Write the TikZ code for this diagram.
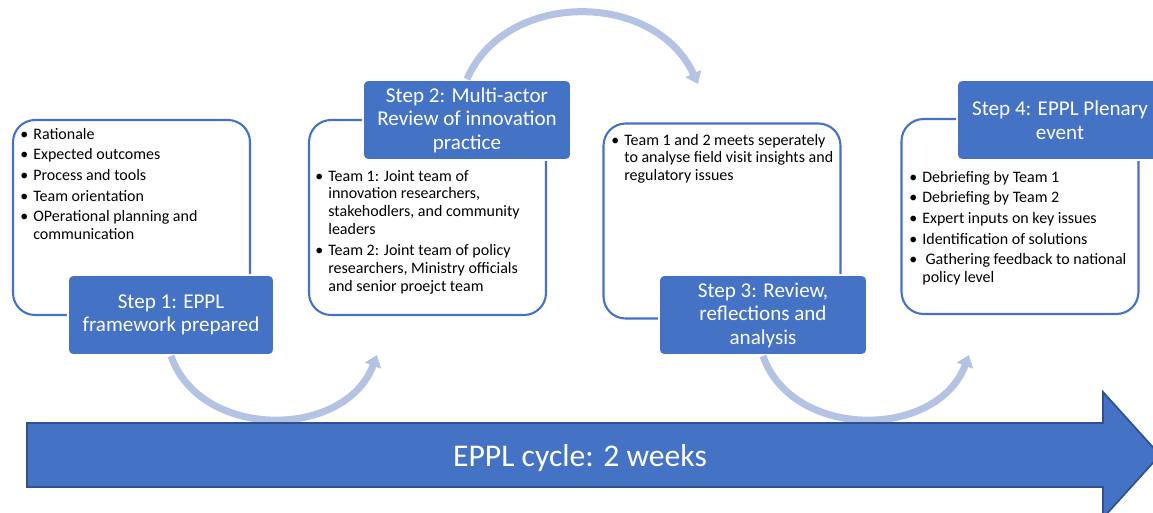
\documentclass[tikz,border=0pt]{standalone}
\usepackage{fontspec}
\setmainfont{Carlito}
\usetikzlibrary{arrows.meta}
\definecolor{stepblue}{HTML}{4472C4}
\definecolor{cyclight}{HTML}{B4C2E3}
\definecolor{arrowedge}{HTML}{2F528F}
\newcommand{\bul}{\textbullet}
\begin{document}
\begin{tikzpicture}[x=0.02cm,y=-0.02cm,
  panel/.style={draw=stepblue, line width=1.2pt, rounded corners=0.44cm, fill=white,
    minimum width=4.74cm, minimum height=3.9cm, inner sep=0pt},
  stepbox/.style={fill=stepblue, draw=white, line width=1pt, rounded corners=0.1cm,
    text=white, align=center, font=\fontsize{12}{13.4}\selectfont, inner sep=0pt,
    minimum height=1.6cm},
  bullets/.style={anchor=base west, inner sep=0pt, font=\fontsize{9.1}{10.2}\selectfont},
  cyclearrow/.style={draw=cyclight, line width=4pt, -{Triangle[length=6.5pt,width=9.5pt]}},
]
\useasboundingbox (0,0) rectangle (1153,512);
\clip (0,0) rectangle (1153,512);

% outlined panels holding the bullet lists
\node[panel] (p1) at (131.5,217.5) {};
\node[panel] (p2) at (427.5,217.5) {};
\node[panel] (p3) at (722,221) {};
\node[panel] (p4) at (1020,216.5) {};

% bullet lists
\node[bullets] (l1) at (20,139) {\begin{tabular}[t]{@{}p{0.26cm}@{}l@{}}
\bul & Rationale\\[1.6pt]
\bul & Expected outcomes\\[1.6pt]
\bul & Process and tools\\[1.6pt]
\bul & Team orientation\\[1.6pt]
\bul & OPerational planning and\\
     & communication
\end{tabular}};
\node[bullets] (l2) at (315,181) {\begin{tabular}[t]{@{}p{0.26cm}@{}l@{}}
\bul & Team 1: Joint team of\\
     & innovation researchers,\\
     & stakehodlers, and community\\
     & leaders\\[1.6pt]
\bul & Team 2: Joint team of policy\\
     & researchers, Ministry officials\\
     & and senior proejct team
\end{tabular}};
\node[bullets] (l3) at (611,145) {\begin{tabular}[t]{@{}p{0.26cm}@{}l@{}}
\bul & Team 1 and 2 meets seperately\\
     & to analyse field visit insights and\\
     & regulatory issues
\end{tabular}};
\node[bullets] (l4) at (909,182) {\begin{tabular}[t]{@{}p{0.26cm}@{}l@{}}
\bul & Debriefing by Team 1\\[1.6pt]
\bul & Debriefing by Team 2\\[1.6pt]
\bul & Expert inputs on key issues\\[1.6pt]
\bul & Identification of solutions\\[1.6pt]
\bul & \hspace{0.2em}Gathering feedback to national\\
     & policy level
\end{tabular}};

% step boxes
\node[stepbox, minimum width=4.12cm] (s1) at (171,315) {Step 1: EPPL\\framework prepared};
\node[stepbox, minimum width=4.16cm] (s2) at (467,120) {Step 2: Multi-actor\\Review of innovation\\practice};
\node[stepbox, minimum width=4.16cm] (s3) at (763,315) {Step 3: Review,\\reflections and\\analysis};
\node[stepbox, minimum width=4.12cm] (s4) at (1060,120) {Step 4: EPPL Plenary\\event};

% curved arrows linking the steps
\coordinate (t12) at (377,355);
\coordinate (t23) at (698,84);
\coordinate (t34) at (969,355);
\draw[cyclearrow] (s1.south) .. controls (200,440) and (345,440) .. (t12);
\draw[cyclearrow] (s2.north) .. controls (505,-10) and (655,-10) .. (t23);
\draw[cyclearrow] (s3.south) .. controls (792,440) and (937,440) .. (t34);

% timeline arrow
\filldraw[fill=stepblue, draw=arrowedge, line width=1pt]
  (27,423) -- (1103,423) -- (1103,392) -- (1160,455) -- (1103,518)
  -- (1103,487) -- (27,487) -- cycle;
\node[text=white, font=\fontsize{18}{21}\selectfont] (cyc) at (580,458) {EPPL cycle: 2 weeks};
\end{tikzpicture}
\end{document}
